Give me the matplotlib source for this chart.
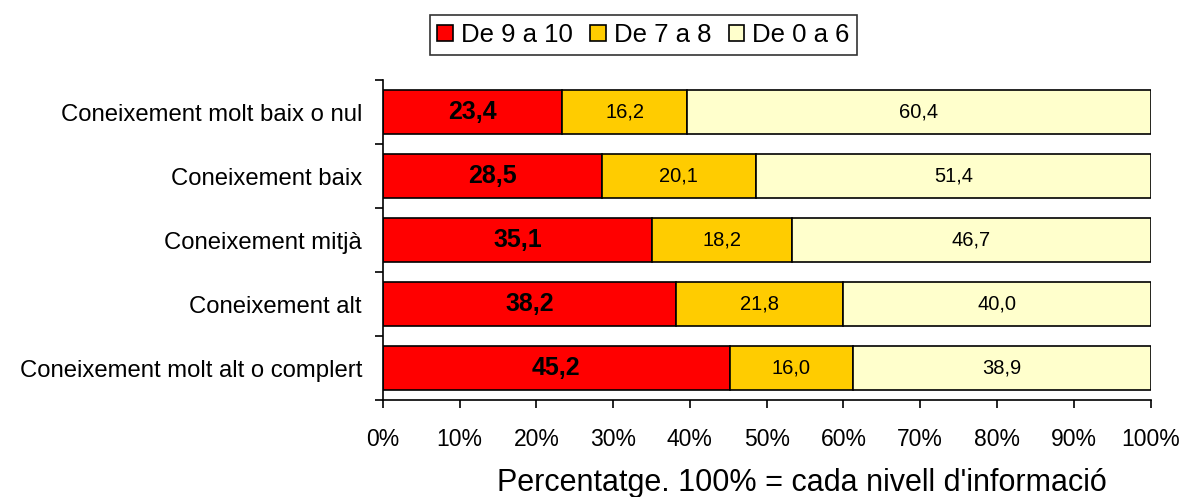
import matplotlib.pyplot as plt
import numpy as np

plt.rcParams["font.family"] = ["Liberation Sans", "DejaVu Sans"]

categories = [
    "Coneixement molt baix o nul",
    "Coneixement baix",
    "Coneixement mitjà",
    "Coneixement alt",
    "Coneixement molt alt o complert",
]
high = [23.4, 28.5, 35.1, 38.2, 45.2]   # De 9 a 10
mid = [16.2, 20.1, 18.2, 21.8, 16.0]    # De 7 a 8
low = [60.4, 51.4, 46.7, 40.0, 38.9]    # De 0 a 6
series_names = ["De 9 a 10", "De 7 a 8", "De 0 a 6"]
colors = ["#FF0000", "#FFCC00", "#FFFFCC"]

fig = plt.figure(figsize=(11.85, 4.97), dpi=100)
ax = fig.add_axes([0.323, 0.195, 0.648, 0.644])

y = np.arange(len(categories))
left = np.zeros(len(categories))
for vals, name, col, bold in zip([high, mid, low], series_names, colors, [True, False, False]):
    vals = np.array(vals)
    ax.barh(y, vals, left=left, height=0.69, color=col, edgecolor="black",
            linewidth=1.2, label=name)
    for yi, l, v in zip(y, left, vals):
        ax.text(l + v / 2, yi, f"{v:.1f}".replace(".", ","), ha="center", va="center",
                fontsize=18 if bold else 14.5,
                fontweight="bold" if bold else "normal")
    left += vals

ax.set_ylim(len(categories) - 0.5, -0.5)
ax.set_xlim(0, 100)
ax.set_yticks(y)
ax.set_yticklabels(categories, fontsize=17.2)
ax.set_yticks(np.arange(-0.5, len(categories)), minor=True)
ax.tick_params(axis="y", which="major", length=0, pad=15)
ax.tick_params(axis="y", which="minor", length=6, width=1.2)
ax.set_xticks(range(0, 101, 10))
ax.set_xticklabels([f"{v}%" for v in range(0, 101, 10)], fontsize=16.5)
ax.tick_params(axis="x", length=6, width=1.2, pad=14)
ax.set_xlabel("Percentatge. 100% = cada nivell d'informació", fontsize=22,
              labelpad=12, x=0.546)

for s in ["top", "right"]:
    ax.spines[s].set_visible(False)
for s in ["left", "bottom"]:
    ax.spines[s].set_linewidth(1.2)

leg = fig.legend(loc="upper center", bbox_to_anchor=(0.543, 0.995), ncol=3,
                 fontsize=18.5, frameon=True, fancybox=False, edgecolor="black",
                 handlelength=0.6, handleheight=0.6, handletextpad=0.3,
                 columnspacing=0.7, borderpad=0.3)
leg.get_frame().set_linewidth(1.2)

fig.savefig("out.png", dpi=100)
